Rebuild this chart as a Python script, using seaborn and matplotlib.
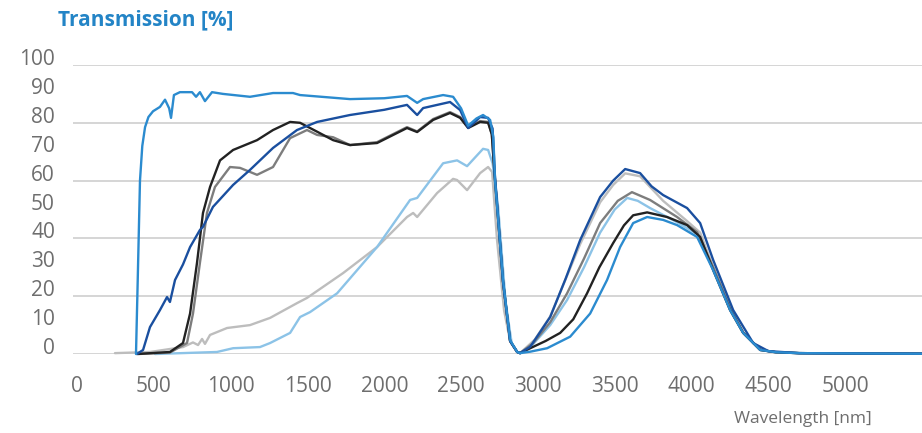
import matplotlib
matplotlib.use("Agg")
import matplotlib.pyplot as plt
import numpy as np
import pandas as pd
import seaborn as sns
from matplotlib.ticker import FixedLocator, FormatStrFormatter

# wavelength [nm] / transmission [%], one pair per curve
lgray_wl = [247, 475, 690, 755, 788, 814, 833, 866, 977, 1126, 1257, 1432, 1497, 1732, 1953, 2148, 2188, 2214,
            2344, 2448, 2474, 2539, 2624, 2676, 2702, 2734, 2780, 2819, 2865, 2884, 2980, 3080, 3275, 3405, 3490,
            3568, 3665, 3815, 3971, 4056, 4141, 4251, 4336, 4447, 4550, 4700, 5000, 5500]
lgray_t = [0.3, 0.7, 2.4, 4, 3.1, 5.2, 3.5, 6.6, 9, 10, 12.5, 17.6, 19.4, 28, 37, 47.4, 48.8, 47.4,
           55.7, 60.6, 60.2, 56.7, 62.6, 64.7, 63, 39.4, 15, 4.5, 0.7, 0.3, 5, 13, 38, 52.5, 58.5,
           62.5, 61.5, 53, 46, 42, 30, 15.5, 7.4, 1.4, 0.6, 0.3, 0.2, 0.1]

lblue_wl = [508, 911, 1016, 1191, 1257, 1387, 1452, 1517, 1693, 1953, 2168, 2214, 2383, 2474, 2539, 2643, 2676,
            2705, 2741, 2790, 2830, 2865, 2884, 2970, 3080, 3190, 3300, 3405, 3500, 3581, 3650, 3730, 3906, 4036,
            4141, 4251, 4336, 4447, 4550, 4700, 5000, 5500]
lblue_t = [0, 0.7, 2, 2.4, 3.8, 7.3, 12.8, 14.5, 21, 37, 53.3, 54, 66, 67, 65, 71, 70.6,
           66, 51, 18, 3.5, 0.7, 0.3, 3.5, 10, 18.7, 30, 42, 50, 54, 53, 50.5, 45.6, 41.5,
           29.5, 15.3, 7.3, 1.4, 0.6, 0.3, 0.2, 0.1]

mgray_wl = [400, 605, 716, 755, 800, 846, 898, 996, 1061, 1172, 1276, 1387, 1497, 1563, 1667, 1777, 1953, 2148,
            2214, 2318, 2428, 2494, 2546, 2624, 2676, 2700, 2718, 2773, 2819, 2865, 2884, 2970, 3080, 3190, 3300,
            3405, 3520, 3612, 3730, 3906, 4036, 4141, 4251, 4336, 4447, 4550, 4700, 5000, 5500]
mgray_t = [0, 0.5, 3.8, 14, 31.5, 48.8, 57.8, 64.7, 64.4, 62, 64.7, 74.7, 77.5, 75.8, 75, 72.3, 73.3, 78.5,
           77, 81.3, 83.7, 82, 78.5, 80.6, 80.3, 76, 62, 25, 4.5, 0.7, 0.3, 3.8, 11, 21, 33,
           45.3, 53, 56, 53.3, 47.4, 42.2, 30, 16, 7.5, 1.5, 0.6, 0.3, 0.2, 0.1]

black_wl = [390, 605, 690, 736, 781, 820, 866, 931, 1016, 1172, 1276, 1387, 1452, 1560, 1667, 1777, 1953, 2148,
            2214, 2318, 2428, 2494, 2546, 2624, 2676, 2700, 2718, 2773, 2819, 2865, 2884, 2950, 3050, 3145, 3230,
            3320, 3400, 3490, 3560, 3620, 3711, 3841, 3971, 4056, 4141, 4251, 4336, 4447, 4550, 4700, 5000, 5500]
black_t = [0, 0.7, 3.8, 14, 31.5, 48.8, 57.8, 67, 70.6, 74, 77.5, 80.3, 80, 77, 74, 72.3, 73, 78.2,
           76.8, 81, 83.4, 81.7, 78.2, 80.3, 80, 76, 62, 25, 4.5, 0.7, 0.3, 2, 4.5, 7.3, 12,
           21, 30, 38.4, 44.5, 48, 49, 47.4, 44.6, 40.5, 29, 15.2, 7.3, 1.4, 0.6, 0.3, 0.2, 0.1]

dblue_wl = [390, 430, 475, 540, 586, 605, 638, 690, 736, 800, 820, 885, 1016, 1126, 1276, 1432, 1563, 1777,
            2000, 2148, 2214, 2253, 2428, 2494, 2546, 2624, 2676, 2705, 2720, 2773, 2819, 2865, 2884, 2950, 3080,
            3180, 3275, 3405, 3490, 3568, 3665, 3740, 3815, 3971, 4056, 4141, 4271, 4401, 4500, 4700, 5000, 5500]
dblue_t = [0, 1.4, 9.3, 15.2, 19.7, 18, 25.6, 31, 37, 42.9, 44, 50.9, 58.5, 63.7, 71.3, 77.5, 80.3, 82.7,
           84.5, 86.2, 82.7, 85.1, 87.2, 84.4, 78.2, 82, 81.7, 78, 62, 25, 4.5, 0.7, 0.3, 2.5, 12.8,
           26, 39.4, 54.3, 60, 64, 62.6, 58, 55, 50.5, 45.3, 32.5, 15.2, 3.8, 1, 0.3, 0.2, 0.1]

bblue_wl = [384, 395, 410, 425, 443, 465, 495, 540, 573, 600, 612, 631, 670, 749, 775, 800, 833, 879, 950, 1126,
            1276, 1406, 1452, 1777, 2000, 2148, 2214, 2253, 2383, 2448, 2500, 2546, 2600, 2643, 2689, 2710, 2721,
            2773, 2819, 2865, 2884, 2950, 3060, 3210, 3340, 3450, 3535, 3620, 3711, 3815, 3906, 4036, 4141, 4251,
            4336, 4447, 4550, 4700, 5000, 5500]
bblue_t = [0, 25, 60, 72, 78.5, 82, 84, 85.5, 88, 85, 81.7, 89.6, 90.6, 90.6, 89, 90.6, 87.5, 90.6, 90, 89,
           90.3, 90.3, 89.6, 88.2, 88.5, 89.3, 86.9, 88.2, 89.6, 89, 85, 79, 81.5, 82.7, 81, 75, 60,
           25.6, 4.8, 0.7, 0.3, 0.8, 2, 6, 14, 25.6, 37, 45.3, 47.4, 46.4, 44.6, 40.5, 29, 15.2,
           7.3, 1.4, 0.6, 0.3, 0.2, 0.1]

series = [
    (lgray_wl, lgray_t, "#bdbdbd"),
    (lblue_wl, lblue_t, "#8cc3e7"),
    (mgray_wl, mgray_t, "#7d7d7d"),
    (black_wl, black_t, "#222222"),
    (dblue_wl, dblue_t, "#1a4f9f"),
    (bblue_wl, bblue_t, "#2b8bcf"),
]

x_ticks = list(range(0, 5001, 500))
y_grid = list(range(0, 101, 20))      # labelled and gridded
y_between = list(range(10, 100, 20))  # labelled only

sns.set_theme(style="white")
plt.rcParams["font.family"] = ["Open Sans", "DejaVu Sans"]

fig = plt.figure(figsize=(9.22, 4.33), dpi=100)
ax = fig.add_axes([73 / 922, 79 / 433, 849 / 922, 289 / 433])

for wl, t, color in series:
    df = pd.DataFrame({"wl": wl, "t": t})
    sns.lineplot(data=df, x="wl", y="t", color=color, linewidth=1.7, sort=False,
                 ax=ax, clip_on=False, zorder=3)

ax.set_xlim(-26, 5500)
ax.set_ylim(0, 100)
ax.set_xticks(x_ticks)
ax.yaxis.set_major_locator(FixedLocator(y_grid))
ax.yaxis.set_minor_locator(FixedLocator(y_between))
ax.yaxis.set_major_formatter(FormatStrFormatter("%d"))
ax.yaxis.set_minor_formatter(FormatStrFormatter("%d"))
ax.grid(False)
ax.grid(which="major", axis="y", color="#d2d2d2", linewidth=1.3)
ax.tick_params(axis="both", which="both", length=0, labelsize=15, labelcolor="#6e6e6e")
ax.tick_params(axis="x", pad=16)
ax.tick_params(axis="y", which="both", pad=13)
for lab in ax.get_yticklabels(which="both"):
    lab.set_verticalalignment("baseline")
for s in ax.spines.values():
    s.set_visible(False)
ax.set_xlabel("")
ax.set_ylabel("")

fig.text(58 / 922, 1 - 20 / 433, "Transmission [%]", color="#2384c6", fontsize=15,
         fontweight="bold", ha="left", va="center")
fig.text(803 / 922, 1 - 419 / 433, "Wavelength [nm]", color="#6e6e6e", fontsize=12.5,
         ha="center", va="center")

fig.savefig("out.png", dpi=100)
